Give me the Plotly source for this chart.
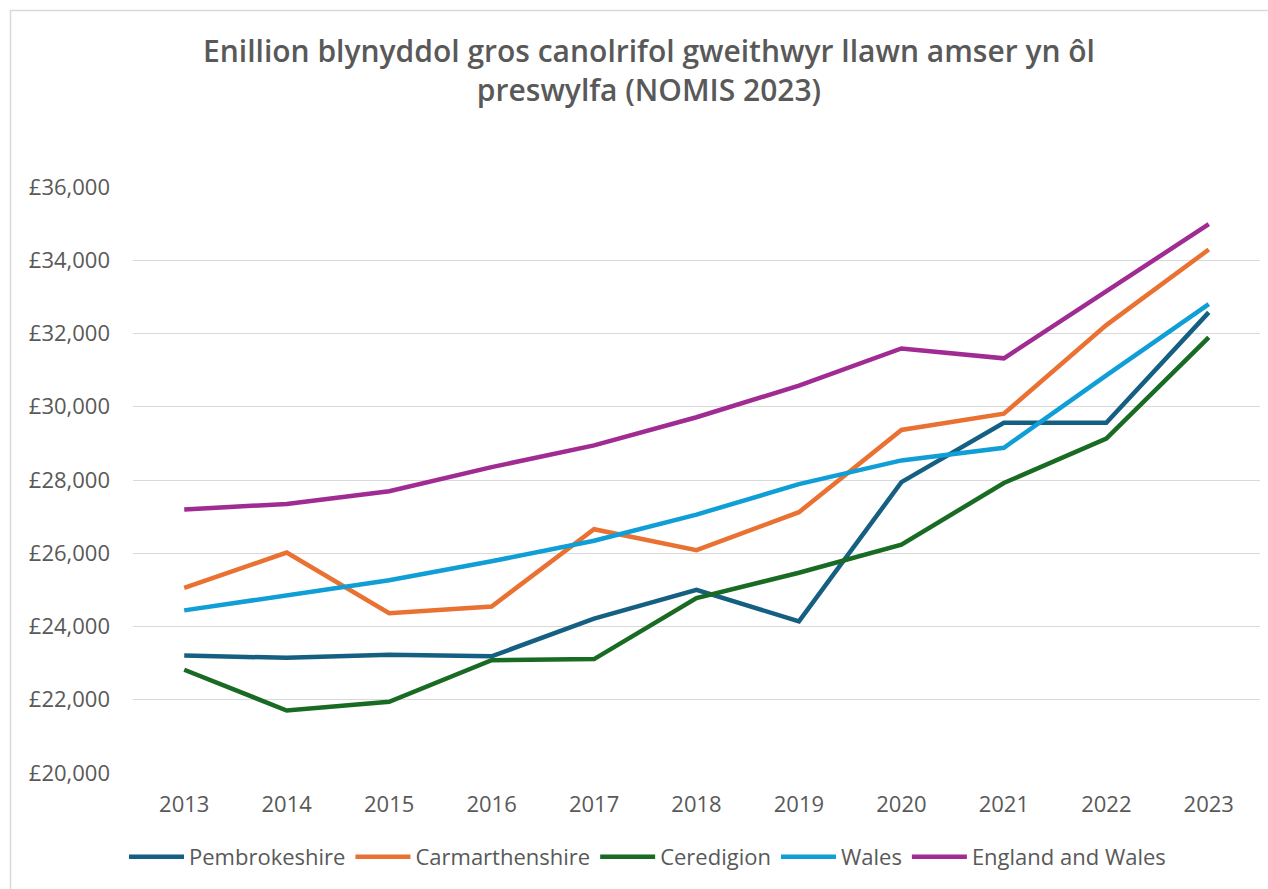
import plotly.graph_objects as go

years = [2013, 2014, 2015, 2016, 2017, 2018, 2019, 2020, 2021, 2022, 2023]
pembrokeshire = [23209, 23144, 23230, 23187, 24213, 25002, 24140, 27941, 29561, 29561, 32576]
carmarthenshire = [25056, 26018, 24365, 24548, 26655, 26083, 27120, 29367, 29810, 32230, 34293]
ceredigion = [22820, 21707, 21945, 23079, 23111, 24775, 25467, 26234, 27919, 29129, 31895]
wales = [24440, 24862, 25261, 25780, 26342, 27055, 27887, 28535, 28880, 30858, 32802]
england_wales = [27195, 27347, 27692, 28351, 28945, 29713, 30577, 31592, 31322, 33170, 34985]

series_names = ["Pembrokeshire", "Carmarthenshire", "Ceredigion", "Wales", "England and Wales"]
series_values = [pembrokeshire, carmarthenshire, ceredigion, wales, england_wales]
colors = ["#156082", "#E97132", "#196B24", "#0F9ED5", "#A02B93"]
y_ticks = list(range(20000, 36001, 2000))
y_tick_labels = ["£{:,}".format(v) for v in y_ticks]
title_text = "Enillion blynyddol gros canolrifol gweithwyr llawn amser yn ôl<br>preswylfa (NOMIS 2023)"

FONT = "Open Sans"
GREY = "#595959"

fig = go.Figure()
for name, vals, col in zip(series_names, series_values, colors):
    fig.add_trace(go.Scatter(
        x=years, y=vals, name=name, mode="lines",
        line=dict(color=col, width=4.5, shape="linear"),
    ))

fig.update_layout(
    width=1268, height=889,
    paper_bgcolor="white", plot_bgcolor="white",
    margin=dict(l=133, r=8, t=187, b=116),
    title=dict(text=title_text, x=649/1268, xref="container", xanchor="center",
               y=1 - 62/889, yref="container", yanchor="middle",
               font=dict(family=FONT, size=30, color=GREY, weight=600)),
    font=dict(family=FONT, color=GREY, size=22),
    showlegend=True,
    legend=dict(orientation="h", x=(124-133)/1127, xanchor="left", xref="paper",
                y=-(857-773)/(773-187), yanchor="middle",
                font=dict(family=FONT, size=22, color=GREY),
                itemwidth=55, tracegroupgap=0),
    xaxis=dict(range=[2012.5, 2023.5], tickmode="array", tickvals=years,
               ticktext=[str(y) for y in years], showgrid=False, zeroline=False,
               showline=False, ticks="", ticklabelstandoff=16,
               tickfont=dict(family=FONT, size=22, color=GREY)),
    yaxis=dict(range=[20000, 36000], tickmode="array", tickvals=y_ticks,
               ticktext=y_tick_labels, showgrid=True, gridcolor="#D9D9D9",
               gridwidth=1.3, zeroline=False, showline=False, ticks="",
               ticklabelstandoff=22,
               tickfont=dict(family=FONT, size=22, color=GREY)),
    shapes=[dict(type="rect", xref="paper", yref="paper",
                 x0=-(133-10.5)/(1268-141), x1=1.05,
                 y0=-0.3, y1=1 + (187-10.5)/(773-187),
                 line=dict(color="#D9D9D9", width=1.5), fillcolor="rgba(0,0,0,0)",
                 layer="below")],
)

fig.write_html("out.html", config={"displayModeBar": False},
               post_script="document.body.style.margin='0';")
